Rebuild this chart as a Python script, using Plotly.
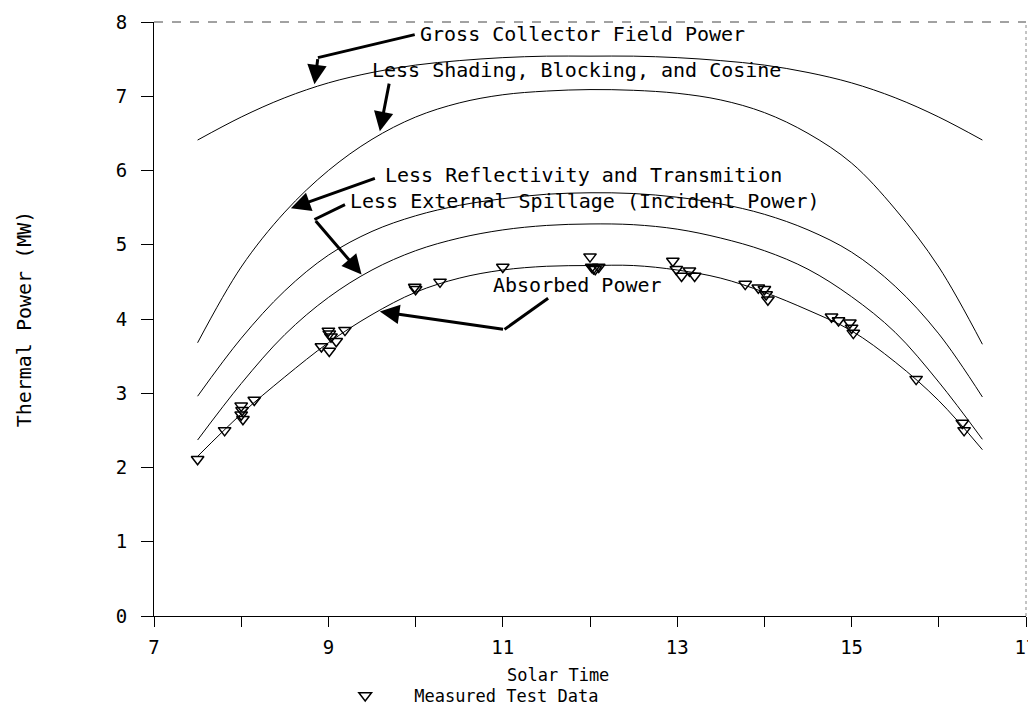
import plotly.graph_objects as go

# ---------------- data ----------------
solar_time = [7.5, 8.0, 8.5, 9.0, 9.5, 10.0, 10.5, 11.0, 11.5, 12.0,
              12.5, 13.0, 13.5, 14.0, 14.5, 15.0, 15.5, 16.0, 16.5]

gross_power = [6.41, 6.72, 6.98, 7.18, 7.32, 7.42, 7.48, 7.52, 7.54, 7.54,
               7.54, 7.52, 7.48, 7.42, 7.32, 7.18, 6.98, 6.72, 6.41]
shading_power = [3.68, 4.70, 5.44, 6.00, 6.42, 6.72, 6.91, 7.02, 7.07, 7.09,
                 7.08, 7.04, 6.95, 6.78, 6.50, 6.10, 5.48, 4.70, 3.66]
reflect_power = [2.96, 3.74, 4.38, 4.86, 5.18, 5.39, 5.53, 5.62, 5.68, 5.70,
                 5.69, 5.64, 5.55, 5.41, 5.20, 4.90, 4.44, 3.80, 2.95]
incident_power = [2.37, 3.13, 3.79, 4.29, 4.66, 4.92, 5.09, 5.20, 5.26, 5.28,
                  5.27, 5.21, 5.09, 4.92, 4.67, 4.30, 3.82, 3.15, 2.38]
absorbed_power = [2.15, 2.72, 3.22, 3.68, 4.06, 4.36, 4.55, 4.66, 4.71, 4.72,
                  4.72, 4.66, 4.55, 4.36, 4.12, 3.84, 3.42, 2.90, 2.24]

measured_time = [7.5, 7.81, 8.0, 8.01, 8.0, 8.02, 8.15,
                 8.92, 9.01, 9.09, 9.0, 9.01, 9.03, 9.19,
                 9.99, 10.0, 10.28, 11.0,
                 12.0, 12.02, 12.04, 12.06, 12.1,
                 12.95, 12.99, 13.05, 13.14, 13.2,
                 13.78, 13.93, 14.0, 14.02, 14.04,
                 14.77, 14.85, 14.98, 15.0, 15.02,
                 15.74, 16.27, 16.29]
measured_power = [2.11, 2.50, 2.83, 2.77, 2.71, 2.65, 2.91,
                  3.63, 3.57, 3.70, 3.84, 3.80, 3.76, 3.85,
                  4.43, 4.40, 4.50, 4.70,
                  4.84, 4.70, 4.68, 4.67, 4.70,
                  4.78, 4.67, 4.58, 4.65, 4.58,
                  4.47, 4.42, 4.40, 4.33, 4.26,
                  4.03, 3.98, 3.95, 3.88, 3.81,
                  3.19, 2.60, 2.50]

x_tickvals = [7, 8, 9, 10, 11, 12, 13, 14, 15, 16, 17]
x_ticktext = ["7", "", "9", "", "11", "", "13", "", "15", "", "17"]
y_tickvals = [0, 1, 2, 3, 4, 5, 6, 7, 8]

curve_labels = ["Gross Collector Field Power",
                "Less Shading, Blocking, and Cosine",
                "Less Reflectivity and Transmition",
                "Less External Spillage (Incident Power)",
                "Absorbed Power"]

# ---------------- figure ----------------
FONT = "DejaVu Sans Mono"
fig = go.Figure()

for name, ys in zip(curve_labels,
                    [gross_power, shading_power, reflect_power,
                     incident_power, absorbed_power]):
    fig.add_trace(go.Scatter(x=solar_time, y=ys, mode="lines", name=name,
                             line=dict(color="black", width=1, shape="spline",
                                       smoothing=1.0),
                             showlegend=False, hoverinfo="skip"))

fig.add_trace(go.Scatter(x=measured_time, y=measured_power, mode="markers",
                         name="Measured Test Data",
                         marker=dict(symbol="triangle-down-open", size=11,
                                     color="black", line=dict(width=1.5)),
                         showlegend=True))

# label text placements (data coords, left anchored)
label_pos = [(10.03, 7.84), (9.48, 7.35), (9.63, 5.94), (9.23, 5.59), (10.86, 4.46)]
annotations = []
for txt, (lx, ly) in zip(curve_labels, label_pos):
    annotations.append(dict(x=lx, y=ly, xref="x", yref="y", text=txt,
                            showarrow=False, xanchor="left", yanchor="middle",
                            font=dict(family=FONT, size=20, color="black")))

# bent leader lines (first segments) and arrow heads (final segments)
leader_segments = [
    ((9.99, 7.83), (8.88, 7.52)),
    ((9.19, 5.54), (8.84, 5.34)),
    ((11.52, 4.28), (11.02, 3.86)),
]
arrow_segments = [
    ((8.88, 7.52), (8.84, 7.16)),
    ((9.70, 7.19), (9.59, 6.53)),
    ((9.55, 5.90), (8.57, 5.49)),
    ((8.84, 5.34), (9.38, 4.60)),
    ((11.02, 3.86), (9.59, 4.10)),
]
shapes = []
for (x0, y0), (x1, y1) in leader_segments:
    shapes.append(dict(type="line", xref="x", yref="y", x0=x0, y0=y0,
                       x1=x1, y1=y1, line=dict(color="black", width=3)))
for (x0, y0), (x1, y1) in arrow_segments:
    annotations.append(dict(x=x1, y=y1, ax=x0, ay=y0, xref="x", yref="y",
                            axref="x", ayref="y", text="", showarrow=True,
                            arrowhead=2, arrowsize=1.3, arrowwidth=3,
                            arrowcolor="black"))

# faint top and right frame edges
shapes.append(dict(type="line", xref="paper", yref="paper", x0=0, y0=1, x1=1, y1=1,
                   line=dict(color="#444444", width=1, dash="dash")))
shapes.append(dict(type="line", xref="paper", yref="paper", x0=1, y0=0, x1=1, y1=1,
                   line=dict(color="#888888", width=1, dash="dot")))

annotations.append(dict(x=(550 - 146) / 872, y=(608 - 667) / 594,
                        xref="paper", yref="paper",
                        text="Solar Time", showarrow=False,
                        xanchor="center", yanchor="middle",
                        font=dict(family=FONT, size=17, color="black")))

fig.update_layout(
    width=1036, height=709,
    margin=dict(l=146, r=18, t=14, b=101, autoexpand=False),
    paper_bgcolor="white", plot_bgcolor="white",
    font=dict(family=FONT, size=19, color="black"),
    annotations=annotations, shapes=shapes,
    showlegend=True,
    legend=dict(x=0.186, y=(608 - 688) / 594, xanchor="left", yanchor="middle",
                bgcolor="rgba(0,0,0,0)", font=dict(family=FONT, size=17),
                itemwidth=88),
)
fig.update_xaxes(range=[7, 17], tickvals=x_tickvals, ticktext=x_ticktext,
                 ticks="outside", ticklen=10, tickcolor="black", tickwidth=1,
                 showline=True, linecolor="black", linewidth=1, mirror=False,
                 showgrid=False, zeroline=False, ticklabelstandoff=4,
                 tickfont=dict(family=FONT, size=19))
fig.update_yaxes(range=[0, 8], tickvals=y_tickvals,
                 ticks="outside", ticklen=12, tickcolor="black", tickwidth=1,
                 showline=True, linecolor="black", linewidth=1, mirror=False,
                 showgrid=False, zeroline=False, ticklabelstandoff=10,
                 tickfont=dict(family=FONT, size=19),
                 title=dict(text="Thermal Power (MW)", standoff=78,
                            font=dict(family=FONT, size=20)))

fig.write_html("out.html")
